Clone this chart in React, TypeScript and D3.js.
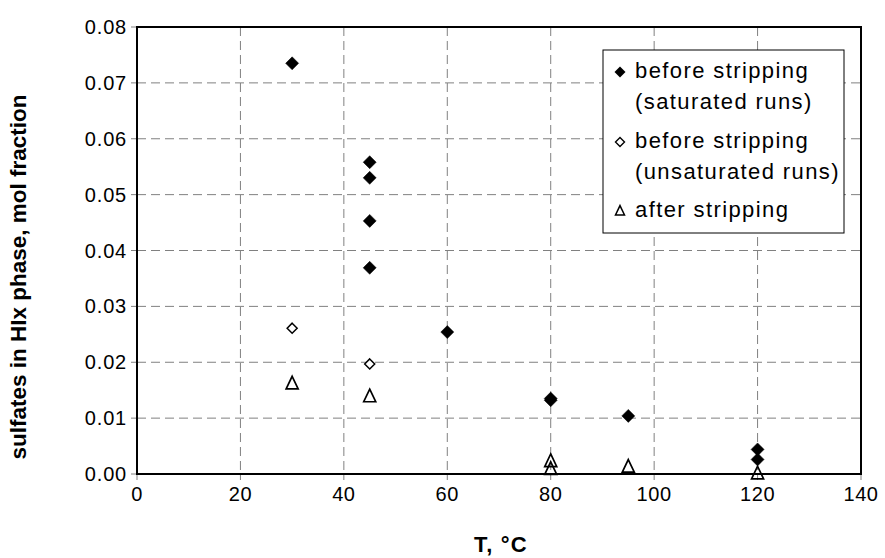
import React from "react";
import * as d3 from "d3";

const satT = [30, 45, 45, 45, 45, 60, 80, 80, 95, 120, 120];
const satY = [0.0735, 0.0558, 0.053, 0.0453, 0.0369, 0.0254, 0.0135, 0.0132, 0.0104, 0.0044, 0.0026];
const unsatT = [30, 45];
const unsatY = [0.0261, 0.0197];
const afterT = [30, 45, 80, 80, 95, 120];
const afterY = [0.0162, 0.0139, 0.0023, 0.0009, 0.0013, 0.0001];
const xTicks = [0, 20, 40, 60, 80, 100, 120, 140];
const yTicks = [0, 0.01, 0.02, 0.03, 0.04, 0.05, 0.06, 0.07, 0.08];
const legendItems = [
  { kind: "sat", lines: ["before stripping", "(saturated runs)"] },
  { kind: "unsat", lines: ["before stripping", "(unsaturated runs)"] },
  { kind: "after", lines: ["after stripping"] },
];

const W = 885, H = 558;
const L = 137, R = 861, T = 27, B = 474;
const font = "Arial, 'Liberation Sans', sans-serif";

const diamond = (cx: number, cy: number, r: number) =>
  `M${cx},${cy - r}L${cx + r},${cy}L${cx},${cy + r}L${cx - r},${cy}Z`;
const triangle = (cx: number, cy: number, s: number) =>
  `M${cx},${cy - s * 0.6}L${cx + s / 2},${cy + s * 0.45}L${cx - s / 2},${cy + s * 0.45}Z`;

export default function App() {
  const x = d3.scaleLinear().domain([0, 140]).range([L, R]);
  const y = d3.scaleLinear().domain([0, 0.08]).range([B, T]);
  return (
    <svg width={W} height={H} style={{ position: "absolute", left: 0, top: 0, background: "#fff" }} fontFamily={font}>
      <rect x={0} y={0} width={W} height={H} fill="#fff" />
      {/* grid */}
      {xTicks.slice(1, -1).map((t) => (
        <line key={"gx" + t} x1={x(t)} x2={x(t)} y1={T} y2={B} stroke="#808080" strokeWidth={1} strokeDasharray="9,5" />
      ))}
      {yTicks.slice(1, -1).map((t) => (
        <line key={"gy" + t} x1={L} x2={R} y1={y(t)} y2={y(t)} stroke="#808080" strokeWidth={1} strokeDasharray="9,5" />
      ))}
      {/* ticks */}
      {xTicks.map((t) => (
        <g key={"xt" + t}>
          <line x1={x(t)} x2={x(t)} y1={B} y2={B + 6} stroke="#808080" strokeWidth={1} />
          <text x={x(t)} y={B + 27} textAnchor="middle" fontSize={20} letterSpacing={0.6} fill="#000">{t}</text>
        </g>
      ))}
      {yTicks.map((t) => (
        <g key={"yt" + t}>
          <line x1={L - 6} x2={L} y1={y(t)} y2={y(t)} stroke="#808080" strokeWidth={1} />
          <text x={L - 10} y={y(t) + 7} textAnchor="end" fontSize={20} letterSpacing={0.8} fill="#000">{t.toFixed(2)}</text>
        </g>
      ))}
      {/* frame */}
      <rect x={L} y={T} width={R - L} height={B - T} fill="none" stroke="#000" strokeWidth={2} />
      {/* data */}
      {satT.map((t, i) => (
        <path key={"s" + i} d={diamond(x(t), y(satY[i]), 6.5)} fill="#000" stroke="#000" strokeWidth={0.5} />
      ))}
      {unsatT.map((t, i) => (
        <path key={"u" + i} d={diamond(x(t), y(unsatY[i]), 5)} fill="#fff" stroke="#000" strokeWidth={1.5} />
      ))}
      {afterT.map((t, i) => (
        <path key={"a" + i} d={triangle(x(t), y(afterY[i]), 12)} fill="#fff" fillOpacity={0} stroke="#000" strokeWidth={1.7} />
      ))}
      {/* legend */}
      <rect x={603} y={50} width={241} height={183} fill="#fff" stroke="#000" strokeWidth={1} />
      {(() => {
        const baselines = [78, 109, 148, 179, 217];
        let k = 0;
        return legendItems.map((it, i) => {
          const b0 = baselines[k];
          const els = it.lines.map((ln, j) => (
            <text key={j} x={635} y={baselines[k + j]} fontSize={22} letterSpacing={1.4} fill="#000">{ln}</text>
          ));
          k += it.lines.length;
          const cy = b0 - 6;
          const mk =
            it.kind === "sat" ? (
              <path d={diamond(620, cy, 5.5)} fill="#000" />
            ) : it.kind === "unsat" ? (
              <path d={diamond(620, cy, 4.5)} fill="#fff" stroke="#000" strokeWidth={1.4} />
            ) : (
              <path d={triangle(620, cy, 9)} fill="none" stroke="#000" strokeWidth={1.5} />
            );
          return <g key={i}>{mk}{els}</g>;
        });
      })()}
      {/* axis titles */}
      <text x={501} y={552} textAnchor="middle" fontSize={22} letterSpacing={1.2} fontWeight="bold" fill="#000">T, °C</text>
      <text transform={`translate(26,277) rotate(-90)`} textAnchor="middle" fontSize={22.5} fontWeight="bold" fill="#000">
        sulfates in HIx phase, mol fraction
      </text>
    </svg>
  );
}
